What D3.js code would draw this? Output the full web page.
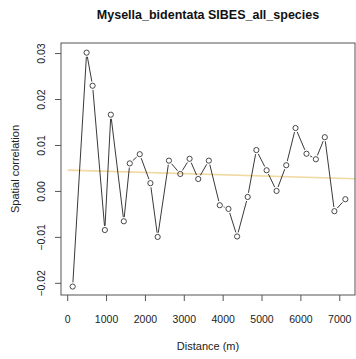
<!DOCTYPE html>
<html><head><meta charset="utf-8">
<script src="https://cdn.jsdelivr.net/npm/d3@7"></script>
<style>body{margin:0;background:#fff}svg{display:block}text{font-family:"Liberation Sans",Arial,sans-serif}</style>
</head><body><svg id="c" width="356" height="359"></svg>
<script>
const distances = [128,487,641,956,1110,1444,1597,1854,2128,2315,2605,2897,3136,3359,3631,3913,4136,4359,4631,4854,5118,5374,5623,5862,6144,6385,6615,6862,7144];
const correlation = [-0.0207,0.0302,0.0230,-0.0084,0.0167,-0.0065,0.0061,0.0081,0.0018,-0.0099,0.0067,0.0038,0.0071,0.0027,0.0067,-0.0030,-0.0038,-0.0098,-0.0012,0.0090,0.0046,0.0001,0.0057,0.0138,0.0082,0.0070,0.0118,-0.0043,-0.0017];
const trendX = [0, 7400];
const trendY = [0.00463, 0.00274];
const xTicks = [0,1000,2000,3000,4000,5000,6000,7000];
const yTicks = [-0.02,-0.01,0.00,0.01,0.02,0.03];
const title = "Mysella_bidentata SIBES_all_species";

const svg = d3.select("#c");
const L=61, R=355, T=43, B=295;
const x = d3.scaleLinear().domain([-172,7392]).range([L,R]);
const y = d3.scaleLinear().domain([-0.02254,0.0323]).range([B,T]);

svg.append("defs").append("clipPath").attr("id","clip").append("rect").attr("x",L).attr("y",T).attr("width",R-L).attr("height",B-T);

// trend
svg.append("line").attr("clip-path","url(#clip)")
  .attr("x1",x(trendX[0])).attr("y1",y(trendY[0])).attr("x2",x(trendX[1])).attr("y2",y(trendY[1]))
  .attr("stroke","#f0d9a2").attr("stroke-width",1.6);

// segments with gaps
const pts = distances.map((d,i)=>[x(d),y(correlation[i])]);
const gap = 4.2;
for(let i=0;i<pts.length-1;i++){
  const [x1,y1]=pts[i],[x2,y2]=pts[i+1];
  const dx=x2-x1, dy=y2-y1, len=Math.hypot(dx,dy);
  if(len<=2*gap) continue;
  const ux=dx/len, uy=dy/len;
  svg.append("line").attr("x1",x1+ux*gap).attr("y1",y1+uy*gap).attr("x2",x2-ux*gap).attr("y2",y2-uy*gap)
    .attr("stroke","#222").attr("stroke-width",0.9);
}
svg.selectAll("circle.p").data(pts).enter().append("circle")
  .attr("cx",d=>d[0]).attr("cy",d=>d[1]).attr("r",2.6)
  .attr("fill","none").attr("stroke","#333").attr("stroke-width",0.9);

// box
svg.append("rect").attr("x",L).attr("y",T).attr("width",R-L).attr("height",B-T)
  .attr("fill","none").attr("stroke","#555").attr("stroke-width",1);

// x axis
const xa = svg.append("g");
xTicks.forEach(t=>{
  xa.append("line").attr("x1",x(t)).attr("x2",x(t)).attr("y1",B).attr("y2",B+6).attr("stroke","#555");
  xa.append("text").attr("x",x(t)).attr("y",323).attr("text-anchor","middle").attr("font-size",10.5).attr("fill","#222").text(d3.format("d")(t));
});
// y axis
const ya = svg.append("g");
yTicks.forEach(t=>{
  ya.append("line").attr("x1",L).attr("x2",L-6).attr("y1",y(t)).attr("y2",y(t)).attr("stroke","#555");
  ya.append("text").attr("transform",`translate(${L-16},${y(t)}) rotate(-90)`).attr("text-anchor","middle")
    .attr("font-size",10.5).attr("fill","#222").text(d3.format(".2f")(t));
});

svg.append("text").attr("x",(L+R)/2).attr("y",350).attr("text-anchor","middle").attr("font-size",11).attr("fill","#222").text("Distance (m)");
svg.append("text").attr("transform",`translate(19,${(T+B)/2}) rotate(-90)`).attr("text-anchor","middle").attr("font-size",11).attr("fill","#222").text("Spatial correlation");
svg.append("text").attr("x",(L+R)/2).attr("y",19).attr("text-anchor","middle").attr("font-size",12.5).attr("font-weight","bold").attr("fill","#111").text(title);
</script></body></html>
